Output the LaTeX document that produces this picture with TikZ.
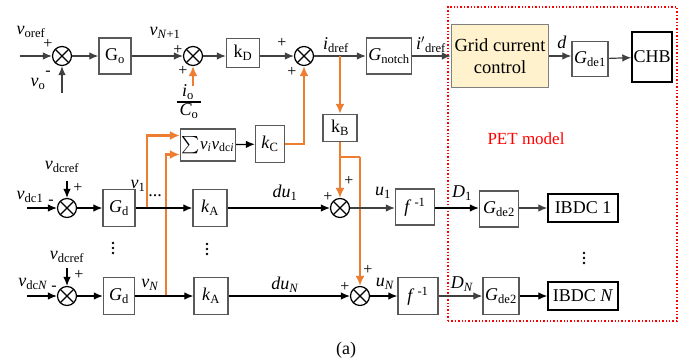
\documentclass[tikz,border=0pt]{standalone}
\usepackage{amsmath}
\usepackage{fontspec}
\setmainfont{Liberation Serif}
\usetikzlibrary{arrows.meta,calc}
\newcommand\mysb[1]{\textsubscript{#1}}
\newcommand\mysp[1]{\textsuperscript{#1}}
\definecolor{orng}{HTML}{ED7D31}
\definecolor{lin}{HTML}{404040}
\definecolor{bxc}{HTML}{595959}
\definecolor{gccfill}{HTML}{FFF2CC}
\begin{document}
\begin{tikzpicture}[x=1pt,y=-1pt,
  font=\fontsize{18}{21}\selectfont,
  bx/.style n args={2}{draw=bxc,line width=1.3pt,inner sep=0pt,minimum width=#1pt,minimum height=#2pt},
  bxk/.style n args={2}{draw=black,line width=1.4pt,inner sep=0pt,minimum width=#1pt,minimum height=#2pt},
  sumn/.style={circle,draw=black,line width=1.2pt,minimum size=19pt,inner sep=0pt,
    path picture={\draw[line width=1.1pt] (path picture bounding box.north west) -- (path picture bounding box.south east)
      (path picture bounding box.north east) -- (path picture bounding box.south west);}},
  arr/.style={-{Latex[length=9pt,width=7.5pt]},line width=1.2pt,draw=lin},
  oarr/.style={-{Latex[length=10pt,width=9pt]},line width=2.9pt,draw=orng},
  oline/.style={line width=2.9pt,draw=orng},
  lbl/.style={inner sep=0pt},
  vdot/.style={fill=black,circle,inner sep=0pt,minimum size=2.6pt},
  sgn/.style={inner sep=0pt,font=\fontsize{16}{18}\selectfont}]
\useasboundingbox (0,0) rectangle (693,362);

% PET region
\node[draw=red,dotted,line width=1.4pt,inner sep=0pt,minimum width=229pt,minimum height=314pt] (pet) at (562.5,164) {};
\node[lbl,text=red,font=\fontsize{17}{19}\selectfont] (petl) at (526,139) {PET model};

% ---------- top row ----------
\coordinate (in0) at (20,56);
\coordinate (vo) at (62,93);
\node[sumn] (s0) at (62,56) {};
\node[bx={32}{36}] (Go) at (115,56) {G\mysb{o}};
\node[sumn] (s1) at (193,56) {};
\node[bx={33}{29}] (kD) at (243,53) {k\mysb{D}};
\node[sumn] (s2) at (304,56) {};
\coordinate (bi) at (340,56);
\node[bx={45}{36}] (Gn) at (389,56) {\textit{G}\mysb{notch}};
\node[bx={97}{63},fill=gccfill,draw=gray,align=center,font=\fontsize{18.5}{22}\selectfont] (GCC) at (500,56) {Grid current\\control};
\node[bx={36}{35}] (Gde1) at (590,59) {\textit{G}\mysb{de1}};
\node[bxk={40}{50}] (CHB) at (652,57) {CHB};

\node[lbl] (voref) at (31,32) {\textit{v}\mysb{oref}};
\node[sgn] (p0a) at (48,44) {+};
\node[lbl] (vol) at (38,84) {\textit{v}\mysb{o}};
\node[sgn] (m0) at (48,73) {-};
\node[lbl] (vN1) at (165,33) {\textit{v}\mysb{\textit{N}+1}};
\node[sgn] (p1a) at (178,50) {+};
\node[sgn] (p1b) at (183,71) {+};
% fraction i_o / C_o
\node[lbl] (fnum) at (188,92) {\textit{i}\mysb{o}};
\node[lbl] (fden) at (189,111) {\textit{C}\mysb{o}};
\draw[line width=1.1pt] (177,102) -- (201,102);
\coordinate (io) at (193,86);
\node[sgn] (p2a) at (282,43) {+};
\node[sgn] (p2b) at (292,72) {+};
\node[lbl] (idref) at (336,45) {\textit{i}\mysb{dref}};
\node[lbl] (idref2) at (431,45) {\textit{i}\mysp{$\prime$}\mysb{dref}};
\node[lbl] (dl) at (562,42) {\textit{d}};

\draw[arr] (in0) -- (s0);
\draw[arr] (vo) -- (s0);
\draw[arr] (s0) -- (Go);
\draw[arr] (Go) -- (s1);
\draw[arr] (s1) -- (s1 -| kD.west);
\draw[arr] (s2 -| kD.east) -- (s2);
\draw[arr] (s2) -- (Gn);
\draw[arr] (Gn) -- (GCC);
\draw[arr] (GCC) -- (GCC.east -| Gde1.west);
\draw[arr] (Gde1) -- (CHB);

% ---------- middle ----------
\node[bx={34}{27}] (kB) at (340,128) {k\mysb{B}};
\node[bx={55}{32},font=\fontsize{17}{20}\selectfont] (Sig) at (208,145) {$\sum$\textit{v}\mysb{\textit{i}}\textit{v}\mysb{dc\textit{i}}};
\node[bx={29}{37}] (kC) at (270,144) {\textit{k}\mysb{C}};
\draw[arr,draw=black] (Sig) -- (kC);
\coordinate (kb1) at (340,157);
\coordinate (kb2) at (360,157);

% ---------- row 1 ----------
\coordinate (in1) at (27,208);
\coordinate (vr1) at (67,181);
\node[sumn] (s3) at (67,208) {};
\node[bx={32}{37}] (Gd1) at (119,208) {\textit{G}\mysb{d}};
\coordinate (j1) at (147,208);
\node[bx={34}{37}] (kA1) at (210,208) {\textit{k}\mysb{A}};
\node[sumn] (s4) at (340,208) {};
\node[bx={39}{36}] (f1) at (415,207) {\textit{f}\,\mysp{-1}};
\node[bx={39}{36}] (Gde2a) at (499,209) {\textit{G}\mysb{de2}};
\node[bxk={70}{28}] (IB1) at (583,208) {IBDC 1};

\node[lbl] (vdc1) at (30,197) {\textit{v}\mysb{dc1}};
\node[sgn] (m1) at (51,202) {-};
\node[lbl] (vdcr1) at (62,167) {\textit{v}\mysb{dcref}};
\node[sgn] (p3) at (78,188) {+};
\node[lbl] (v1l) at (138,186) {\textit{v}\mysb{1}};
\node[lbl] (dots1) at (155,196) {...};
\node[lbl] (du1) at (285,193) {\textit{du}\mysb{1}};
\node[sgn] (p4a) at (328,197) {+};
\node[sgn] (p4b) at (349,181) {+};
\node[lbl] (u1) at (383,193) {\textit{u}\mysb{1}};
\node[lbl] (D1) at (462,193) {\textit{D}\mysb{1}};

% ---------- row N ----------
\coordinate (inN) at (27,296);
\coordinate (vrN) at (67,268);
\node[sumn] (s5) at (67,296) {};
\node[bx={31}{37}] (GdN) at (119,296) {\textit{G}\mysb{d}};
\coordinate (jN) at (166,296);
\node[bx={34}{37}] (kAN) at (211,296) {\textit{k}\mysb{A}};
\node[sumn] (s6) at (360,296) {};
\node[bx={40}{37}] (fN) at (418,296) {\textit{f}\,\mysp{-1}};
\node[bx={36}{37}] (Gde2b) at (501,296) {\textit{G}\mysb{de2}};
\node[bxk={70}{28}] (IBN) at (583,296) {IBDC \textit{N}};

\node[lbl] (vdcN) at (33,284) {\textit{v}\mysb{dc\textit{N}}};
\node[sgn] (mN) at (54,288) {-};
\node[lbl] (vdcrN) at (67,257) {\textit{v}\mysb{dcref}};
\node[sgn] (p5) at (79,275) {+};
\node[lbl] (vNl) at (150,285) {\textit{v}\mysb{\textit{N}}};
\node[lbl] (duN) at (285,285) {\textit{du}\mysb{\textit{N}}};
\node[sgn] (p6a) at (345,287) {+};
\node[sgn] (p6b) at (368,270) {+};
\node[lbl] (uN) at (385,284) {\textit{u}\mysb{\textit{N}}};
\node[lbl] (DN) at (462,284) {\textit{D}\mysb{\textit{N}}};

% vertical ellipses
\foreach \yy [count=\k] in {243,248,253} {
  \node[vdot] (da\k) at (113,\yy) {};
  \node[vdot] (db\k) at (207,\yy+1) {};
}
\foreach \yy [count=\k] in {253,258,263} {
  \node[vdot] (dc\k) at (584,\yy) {};
}

\node[lbl] (cap) at (346,350) {(a)};

% orange connectors
\draw[oarr] (io) -- (s1);
\draw[oarr] (bi) -- (kB);
\draw[oarr] (kC.east) -| (s2.south);
\draw[oarr] (kB) -- (s4);
\draw[oline] (kb1) -- (kb2);
\draw[oarr] (kb2) -- (s6);
\draw[oarr] (j1) |- ([yshift=9.5pt]Sig.west);
\draw[oarr] (jN) |- ([yshift=-9.5pt]Sig.west);

% row 1 black connectors
\draw[arr,draw=black] (in1) -- (s3);
\draw[arr,draw=black] (vr1) -- (s3);
\draw[arr,draw=black] (s3) -- (Gd1);
\draw[arr,draw=black] (Gd1) -- (kA1);
\draw[arr,draw=black] (kA1) -- (s4);
\draw[arr] (s4) -- (s4 -| f1.west);
\draw[arr,draw=black] (f1.east |- s4) -- (s4 -| Gde2a.west);
\draw[arr] (Gde2a.east |- IB1) -- (IB1);

% row N black connectors
\draw[arr,draw=black] (inN) -- (s5);
\draw[arr,draw=black] (vrN) -- (s5);
\draw[arr,draw=black] (s5) -- (GdN);
\draw[arr,draw=black] (GdN) -- (kAN);
\draw[arr,draw=black] (kAN) -- (s6);
\draw[arr,draw=black] (s6) -- (fN);
\draw[arr] (fN) -- (Gde2b);
\draw[arr,draw=black] (Gde2b) -- (IBN);
\end{tikzpicture}
\end{document}
